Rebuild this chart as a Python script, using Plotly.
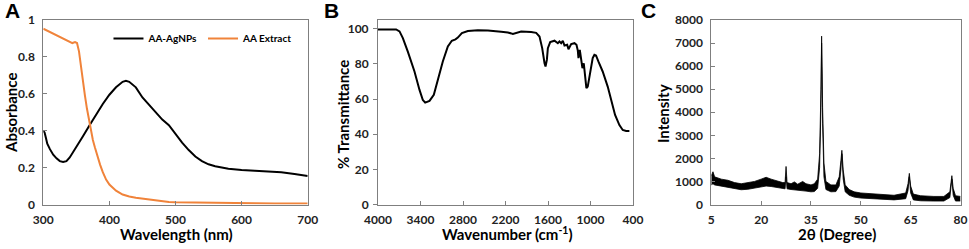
import plotly.graph_objects as go

# ---------------- Panel A: UV-Vis ----------------
wl_agnp = [300, 302, 304, 306, 310, 315, 320, 325, 330, 335, 340, 350, 360, 370, 380, 390,
           400, 410, 420, 425, 430, 440, 450, 460, 470, 480, 490, 500, 510, 520, 530, 540,
           550, 560, 570, 580, 600, 620, 640, 650, 660, 680, 700]
abs_agnp = [0.40, 0.39, 0.36, 0.33, 0.30, 0.27, 0.25, 0.235, 0.23, 0.235, 0.255, 0.31, 0.37,
            0.43, 0.49, 0.545, 0.595, 0.635, 0.665, 0.670, 0.665, 0.635, 0.58, 0.54, 0.50,
            0.46, 0.43, 0.38, 0.335, 0.295, 0.26, 0.235, 0.218, 0.207, 0.199, 0.194, 0.187,
            0.183, 0.179, 0.178, 0.175, 0.165, 0.155]

wl_ext = [300, 310, 320, 330, 340, 344, 348, 351, 354, 357, 360, 363, 366, 369, 372, 375,
          378, 382, 386, 390, 395, 400, 410, 420, 430, 440, 450, 460, 470, 480, 490, 500,
          550, 600, 650, 700]
abs_ext = [0.953, 0.935, 0.92, 0.90, 0.88, 0.875, 0.88, 0.875, 0.83, 0.74, 0.66, 0.59, 0.52,
           0.46, 0.40, 0.35, 0.31, 0.26, 0.215, 0.175, 0.135, 0.108, 0.075, 0.054, 0.043,
           0.037, 0.032, 0.026, 0.02, 0.016, 0.014, 0.012, 0.009, 0.007, 0.006, 0.005]

# ---------------- Panel B: FTIR ----------------
wavenumber = [4000, 3744, 3696, 3649, 3579, 3485, 3414, 3367, 3334, 3273, 3212, 3155, 3085,
              3014, 2958, 2906, 2873, 2816, 2731, 2591, 2449, 2261, 2167, 2096, 1979, 1838,
              1767, 1720, 1682, 1649, 1635, 1616, 1602, 1569, 1508, 1461, 1438, 1414, 1391,
              1367, 1329, 1311, 1273, 1226, 1198, 1179, 1170, 1151, 1132, 1114, 1095, 1076,
              1058, 1039, 1015, 992, 969, 945, 922, 889, 828, 757, 701, 653, 592, 545, 497, 451]
transmittance = [99.6, 99.6, 98.5, 94.7, 87, 75.7, 65.2, 59.5, 58, 59, 62.4, 71, 81.4, 90,
                 93.2, 94, 95, 97.5, 98.7, 99.2, 99, 98.3, 97.9, 97.1, 98.5, 98.1, 97.7, 95.6,
                 89, 80.4, 78.5, 82.3, 89, 92.4, 93.2, 91.8, 92.8, 91.8, 93.2, 90.5, 90.9,
                 88.4, 91.3, 91.8, 90.9, 87.6, 83.3, 88, 81.4, 77.6, 80.4, 71.9, 66.2, 67.1,
                 72.8, 77.6, 83.3, 85.2, 84.8, 81.4, 75.7, 67.1, 57.6, 51, 45.2, 42.4, 41.8, 41.8]

# ---------------- Panel C: XRD (noise band upper / lower envelope) ----------------
two_theta = [5.0, 5.5, 6.0, 7.0, 8.0, 10.0, 12.0, 14.0, 16.0, 18.0, 20.0, 21.5, 23.0, 25.0,
             26.5, 27.2, 27.5, 27.8, 29.0, 30.0, 31.0, 32.5, 33.5, 35.0, 36.0, 37.0, 37.6,
             38.0, 38.2, 38.5, 38.9, 39.5, 41.0, 42.5, 43.5, 44.0, 44.3, 44.7, 45.3, 46.5,
             48.0, 50.0, 53.0, 56.0, 60.0, 63.5, 64.2, 64.6, 65.0, 65.8, 68.0, 72.0, 75.0,
             76.8, 77.1, 77.4, 77.8, 78.5, 80.0]
xrd_upper = [1250, 1420, 1200, 1150, 1100, 1050, 950, 900, 950, 1000, 1100, 1180, 1100, 1000,
             950, 950, 1650, 950, 900, 980, 880, 1000, 900, 850, 900, 1100, 2200,
             5000, 7300, 4200, 1800, 1000, 850, 850, 1200, 1900, 2350, 1500, 850, 650,
             550, 500, 470, 450, 400, 500, 900, 1350, 800, 450, 380, 350, 350,
             550, 900, 1250, 700, 380, 350]
xrd_lower = [850, 900, 850, 820, 800, 760, 680, 640, 660, 720, 780, 800, 780, 720,
             680, 680, 1200, 680, 650, 640, 620, 620, 580, 550, 560, 700, 1600,
             4200, 7000, 3500, 1200, 650, 550, 560, 800, 1500, 2200, 1100, 550, 400,
             320, 280, 250, 230, 200, 250, 600, 1200, 500, 200, 160, 150, 150,
             300, 700, 1100, 400, 150, 150]

ORANGE = "#F0833A"
FONT = "Lato"
FRAME = "#7f7f7f"

fig = go.Figure()

fig.add_trace(go.Scatter(x=wl_agnp, y=abs_agnp, mode="lines", name="AA-AgNPs",
                         line=dict(color="black", width=2), xaxis="x", yaxis="y"))
fig.add_trace(go.Scatter(x=wl_ext, y=abs_ext, mode="lines", name="AA Extract",
                         line=dict(color=ORANGE, width=2), xaxis="x", yaxis="y"))

fig.add_trace(go.Scatter(x=wavenumber, y=transmittance, mode="lines", showlegend=False,
                         line=dict(color="black", width=2), xaxis="x2", yaxis="y2"))

fig.add_trace(go.Scatter(x=two_theta, y=xrd_lower, mode="lines", showlegend=False,
                         line=dict(color="black", width=0.8), xaxis="x3", yaxis="y3"))
fig.add_trace(go.Scatter(x=two_theta, y=xrd_upper, mode="lines", showlegend=False,
                         fill="tonexty", fillcolor="black",
                         line=dict(color="black", width=0.8), xaxis="x3", yaxis="y3"))

H = 249.0
W = 969.0
ydom = [1 - 204.5 / H, 1 - 20.0 / H]
tickfont = dict(family=FONT, size=12, color="#222", weight="bold")

def ax(**kw):
    base = dict(showline=True, mirror=True, linecolor=FRAME, linewidth=1, showgrid=False,
                zeroline=False, tickfont=tickfont, ticklen=4, tickcolor=FRAME,
                automargin=False)
    base.update(kw)
    return base

fig.update_layout(
    width=969, height=249, margin=dict(l=0, r=0, t=0, b=0, autoexpand=False),
    paper_bgcolor="white", plot_bgcolor="white",
    font=dict(family=FONT, color="black"),
    xaxis=ax(domain=[43.3 / W, 307.7 / W], range=[300, 700], tickvals=[300, 400, 500, 600, 700],
             ticks="inside", anchor="y", ticklabelstandoff=4),
    yaxis=ax(domain=ydom, range=[0, 1], tickvals=[0, 0.2, 0.4, 0.6, 0.8, 1],
             ticktext=["0", "0.2", "0.4", "0.6", "0.8", "1"], ticks="inside", anchor="x",
             ticklabelstandoff=5),
    xaxis2=ax(domain=[378 / W, 633 / W], range=[4000, 400],
              tickvals=[4000, 3400, 2800, 2200, 1600, 1000, 400], ticks="inside", anchor="y2",
              ticklabelstandoff=4),
    yaxis2=ax(domain=ydom, range=[0, 105], tickvals=[0, 20, 40, 60, 80, 100],
              ticks="outside", anchor="x2", ticklabelstandoff=2),
    xaxis3=ax(domain=[711.3 / W, 960.5 / W], range=[5, 80], tickvals=[5, 20, 35, 50, 65, 80],
              ticks="inside", anchor="y3", ticklabelstandoff=4),
    yaxis3=ax(domain=ydom, range=[0, 8000], tickvals=list(range(0, 8001, 1000)),
              ticks="inside", anchor="x3", ticklabelstandoff=5),
    legend=dict(orientation="h", x=0.307, xanchor="right", y=1 - 24 / H, yanchor="top",
                bgcolor="rgba(0,0,0,0)", itemwidth=30, traceorder="normal",
                font=dict(family=FONT, size=10, color="black", weight="bold")),
)

def title(text, x, y, size=15, angle=0):
    fig.add_annotation(text=text, x=x / W, y=1 - y / H, xref="paper", yref="paper",
                       showarrow=False, textangle=angle, xanchor="center", yanchor="middle",
                       font=dict(family=FONT, size=size, color="black", weight="bold"))

title("Wavelength (nm)", 176, 234)
title("Wavenumber (cm<sup>-1</sup>)", 507, 233)
title("2θ (Degree)", 837, 234)
title("Absorbance", 11, 113, angle=-90)
title("% Transmittance", 343, 115, angle=-90)
title("Intensity", 663, 114, angle=-90)

for letter, lx in (("A", 12), ("B", 331), ("C", 648)):
    fig.add_annotation(text=letter, x=lx / W, y=1 - 11 / H, xref="paper", yref="paper",
                       showarrow=False, xanchor="center", yanchor="middle",
                       font=dict(family="Liberation Sans", size=21, color="black", weight="bold"))

fig.write_html("out.html", config={"displayModeBar": False},
               post_script="document.body.style.margin='0';document.body.style.overflow='hidden';")
